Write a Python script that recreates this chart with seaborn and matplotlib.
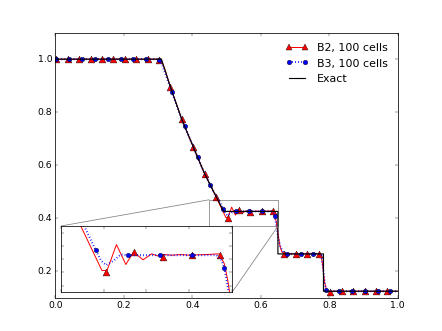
import numpy as np
import pandas as pd
import seaborn as sns
import matplotlib
matplotlib.use("Agg")
import matplotlib.pyplot as plt
from matplotlib.lines import Line2D
from mpl_toolkits.axes_grid1.inset_locator import zoomed_inset_axes, mark_inset

# B2 scheme, line
b2_x = [0.0, 0.300, 0.310, 0.320, 0.336, 0.370, 0.4026, 0.4357, 0.4698, 0.473, 0.498, 0.504,
        0.515, 0.526, 0.535, 0.546, 0.556, 0.563, 0.570, 0.580, 0.590, 0.600, 0.620, 0.635,
        0.641, 0.645, 0.650, 0.656, 0.662, 0.670, 0.770, 0.776, 0.781, 0.786, 0.792, 0.800,
        0.810, 1.0]
b2_y = [1.0, 1.0, 0.995, 0.962, 0.896, 0.771, 0.670, 0.569, 0.481, 0.471, 0.403, 0.403,
        0.442, 0.412, 0.431, 0.419, 0.428, 0.425, 0.427, 0.426, 0.427, 0.426, 0.427, 0.428,
        0.413, 0.388, 0.345, 0.295, 0.272, 0.266, 0.266, 0.262, 0.220, 0.160, 0.130, 0.122,
        0.125, 0.125]
# B2 markers
b2_mx = [0.003, 0.037, 0.070, 0.103, 0.137, 0.170, 0.203, 0.237, 0.270, 0.303, 0.336, 0.369,
         0.403, 0.436, 0.469, 0.503, 0.536, 0.569, 0.603, 0.636, 0.669, 0.703, 0.736, 0.769,
         0.803, 0.836, 0.869, 0.903, 0.936, 0.969]
b2_my = [1.0, 1.0, 1.0, 1.0, 1.0, 1.0, 1.0, 1.0, 1.0, 0.997, 0.896, 0.774,
         0.669, 0.568, 0.481, 0.401, 0.431, 0.424, 0.426, 0.427, 0.266, 0.266, 0.266, 0.266,
         0.122, 0.125, 0.125, 0.125, 0.125, 0.125]

# B3 scheme, line
b3_x = [0.0, 0.295, 0.303, 0.313, 0.325, 0.341, 0.370, 0.4026, 0.4357, 0.4698, 0.477, 0.4906,
        0.497, 0.503, 0.512, 0.520, 0.528, 0.600, 0.632, 0.637, 0.641, 0.646, 0.651, 0.658,
        0.666, 0.678, 0.772, 0.777, 0.782, 0.787, 0.791, 0.800, 1.0]
b3_y = [1.0, 1.0, 0.998, 0.975, 0.932, 0.874, 0.771, 0.670, 0.569, 0.481, 0.471, 0.434,
        0.418, 0.411, 0.418, 0.427, 0.426, 0.426, 0.426, 0.420, 0.407, 0.370, 0.325, 0.290,
        0.272, 0.266, 0.266, 0.258, 0.210, 0.155, 0.128, 0.125, 0.125]
# B3 markers
b3_mx = [0.003, 0.041, 0.078, 0.116, 0.153, 0.191, 0.228, 0.266, 0.303, 0.341, 0.378, 0.416,
         0.453, 0.491, 0.528, 0.566, 0.603, 0.641, 0.678, 0.716, 0.753, 0.791, 0.828, 0.866,
         0.903, 0.941, 0.978]
b3_my = [1.0, 1.0, 1.0, 1.0, 1.0, 1.0, 1.0, 1.0, 0.998, 0.876, 0.747, 0.630,
         0.526, 0.434, 0.426, 0.426, 0.426, 0.407, 0.266, 0.266, 0.266, 0.128, 0.125, 0.125,
         0.125, 0.125, 0.125]

# exact solution
ex_x = [0.0, 0.31, 0.336, 0.370, 0.4026, 0.4357, 0.4698, 0.492, 0.65, 0.65, 0.783, 0.783, 1.0]
ex_y = [1.0, 1.0, 0.896, 0.771, 0.670, 0.569, 0.481, 0.426, 0.426, 0.2656, 0.2656, 0.125, 0.125]

plt.style.use("classic")
plt.rcParams["font.family"] = ["DejaVu Sans"]

fig, ax = plt.subplots(figsize=(8, 6), dpi=55.25)
fig.patch.set_facecolor("white")


def draw_schemes(a):
    sns.lineplot(x=b2_x, y=b2_y, estimator=None, sort=False, color="r", lw=1.3, ax=a, zorder=2)
    sns.scatterplot(x=b2_mx, y=b2_my, marker="^", s=80, color="r", edgecolor="k",
                    linewidth=0.5, ax=a, zorder=2.1)
    sns.lineplot(x=b3_x, y=b3_y, estimator=None, sort=False, color="b", lw=2.6,
                 linestyle=":", ax=a, zorder=2.2)
    sns.scatterplot(x=b3_mx, y=b3_my, marker="o", s=35, color="b", edgecolor="k",
                    linewidth=0.5, ax=a, zorder=2.3)


draw_schemes(ax)
sns.lineplot(x=ex_x, y=ex_y, estimator=None, sort=False, color="k", lw=1.5, ax=ax, zorder=2.4)

ax.set_xlim(0, 1)
ax.set_ylim(0.1, 1.1)
ax.set_xticks([0.0, 0.2, 0.4, 0.6, 0.8, 1.0])
ax.set_yticks([0.2, 0.4, 0.6, 0.8, 1.0])

handles = [
    Line2D([], [], color="r", lw=1.3, marker="^", ms=9, mec="k", mew=0.5),
    Line2D([], [], color="b", lw=2.6, ls=":", marker="o", ms=6, mec="k", mew=0.5),
    Line2D([], [], color="k", lw=1.5),
]
ax.legend(handles, ["B2, 100 cells", "B3, 100 cells", "Exact"], loc="upper right",
          frameon=False, numpoints=2, fontsize="large")

# zoomed inset
axins = zoomed_inset_axes(ax, 2.5, loc=3, borderpad=0.5)
draw_schemes(axins)
axins.set_xlim(0.45, 0.65)
axins.set_ylim(0.37, 0.47)
axins.set_xticks([0.45, 0.50, 0.55, 0.60, 0.65])
axins.set_yticks([0.38, 0.40, 0.42, 0.44, 0.46])
axins.tick_params(labelbottom=False, labelleft=False)
mark_inset(ax, axins, loc1=2, loc2=4, fc="none", ec="0.5")

fig.savefig("out.png", dpi=fig.dpi)
